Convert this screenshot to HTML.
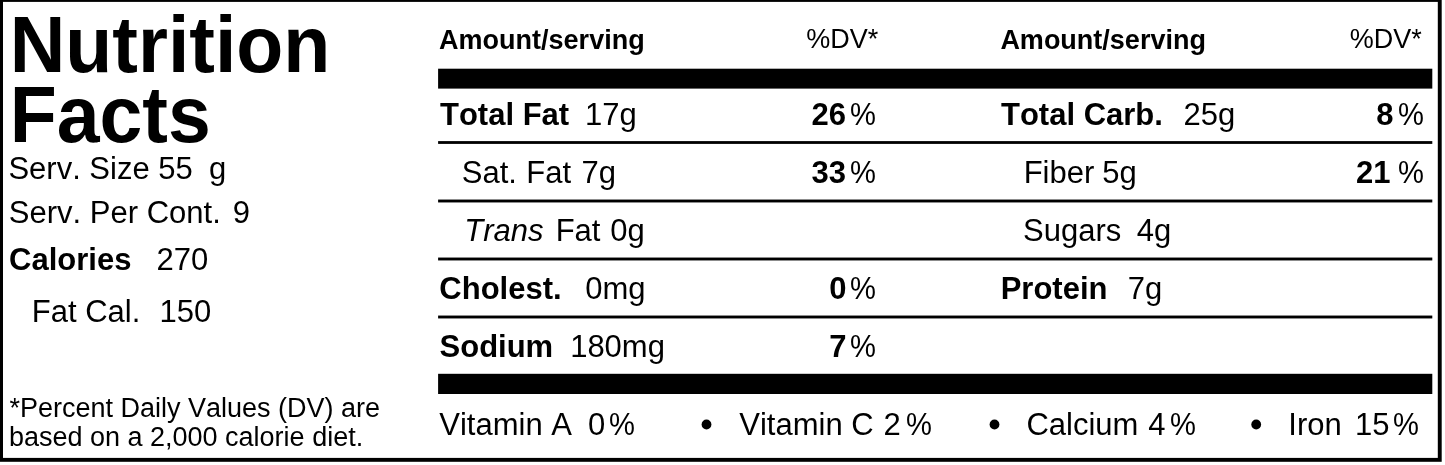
<!DOCTYPE html>
<html>
<head>
<meta charset="utf-8">
<title>Nutrition Facts</title>
<style>
html,body{margin:0;padding:0;background:#fff;}
body{width:1445px;height:465px;position:relative;overflow:hidden;font-family:"Liberation Sans",sans-serif;color:#000;font-kerning:none;font-variant-ligatures:none;}
.t{position:absolute;white-space:pre;line-height:1;margin:0;padding:0;}
#txt{position:absolute;left:0;top:0;width:1445px;height:465px;will-change:transform;}
.b{font-weight:bold;}
svg{position:absolute;left:0;top:0;}
</style>
</head>
<body>
<svg width="1445" height="465" viewBox="0 0 1445 465">
<rect x="1.05" y="-0.05" width="1438.7" height="459.9" fill="none" stroke="#000" stroke-width="3.9"/>
<rect x="438.1" y="68.7" width="994.2" height="19.9" fill="#000"/>
<rect x="438.1" y="141.1" width="994.2" height="2.8" fill="#000"/>
<rect x="438.1" y="199.55" width="994.2" height="2.9" fill="#000"/>
<rect x="438.1" y="257.55" width="994.2" height="2.9" fill="#000"/>
<rect x="438.1" y="315.55" width="994.2" height="2.9" fill="#000"/>
<rect x="438.1" y="373.8" width="994.2" height="20.2" fill="#000"/>
<circle cx="706.5" cy="424.5" r="4.9" fill="#000"/>
<circle cx="994.5" cy="424.5" r="4.9" fill="#000"/>
<circle cx="1256.2" cy="424.5" r="4.9" fill="#000"/>
</svg>
<div id="txt">
<div class="t b" id="t1" style="left:9.65px;top:5.05px;font-size:77.0px;transform:scale(1,1.028);transform-origin:0 0;">Nutrition</div>
<div class="t b" id="t2" style="left:9.65px;top:75.05px;font-size:77.0px;transform:scale(1,1.028);transform-origin:0 0;">Facts</div>
<div class="t" id="s1a" style="left:8.40px;top:153.00px;font-size:31.0px;">Serv. Size 55</div>
<div class="t" id="s1b" style="left:208.95px;top:153.00px;font-size:31.0px;">g</div>
<div class="t" id="s2a" style="left:8.84px;top:197.00px;font-size:31.0px;">Serv. Per Cont.</div>
<div class="t" id="s2b" style="left:232.67px;top:197.00px;font-size:31.0px;">9</div>
<div class="t b" id="s3a" style="left:9.09px;top:244.00px;font-size:31.0px;">Calories</div>
<div class="t" id="s3b" style="left:156.50px;top:244.00px;font-size:31.0px;">270</div>
<div class="t" id="s4a" style="left:31.80px;top:296.00px;font-size:31.0px;">Fat Cal.</div>
<div class="t" id="s4b" style="left:159.47px;top:296.00px;font-size:31.0px;">150</div>
<div class="t" id="f1" style="left:9.38px;top:395.09px;font-size:27.0px;">*Percent Daily Values (DV) are</div>
<div class="t" id="f2" style="left:8.92px;top:424.06px;font-size:27.0px;">based on a 2,000 calorie diet.</div>
<div class="t b" id="h1" style="left:439.11px;top:27.06px;font-size:27.0px;">Amount/serving</div>
<div class="t" id="h2" style="left:806.31px;top:26.01px;font-size:27.0px;">%DV*</div>
<div class="t b" id="h3" style="left:1000.39px;top:27.06px;font-size:27.0px;">Amount/serving</div>
<div class="t" id="h4" style="left:1349.87px;top:26.01px;font-size:27.0px;">%DV*</div>
<div class="t b" id="a1a" style="left:439.98px;top:99.05px;font-size:31.0px;">Total Fat</div>
<div class="t" id="a1b" style="left:585.03px;top:99.05px;font-size:31.0px;">17g</div>
<div class="t" id="a2a" style="left:461.85px;top:157.05px;font-size:31.0px;">Sat.</div>
<div class="t" id="a2b" style="left:526.21px;top:157.05px;font-size:31.0px;">Fat</div>
<div class="t" id="a2c" style="left:581.57px;top:157.05px;font-size:31.0px;">7g</div>
<div class="t" id="a3a" style="left:464.37px;top:215.05px;font-size:31.0px;"><i>Trans</i></div>
<div class="t" id="a3b" style="left:555.70px;top:215.05px;font-size:31.0px;">Fat</div>
<div class="t" id="a3c" style="left:610.17px;top:215.05px;font-size:31.0px;">0g</div>
<div class="t b" id="a4a" style="left:439.35px;top:273.05px;font-size:31.0px;">Cholest.</div>
<div class="t" id="a4b" style="left:585.30px;top:273.05px;font-size:31.0px;">0mg</div>
<div class="t b" id="a5a" style="left:439.53px;top:331.05px;font-size:31.0px;">Sodium</div>
<div class="t" id="a5b" style="left:570.15px;top:331.05px;font-size:31.0px;">180mg</div>
<div class="t b" id="p1n" style="left:811.62px;top:99.05px;font-size:31.0px;">26</div>
<div class="t" id="p1p" style="left:850.46px;top:99.05px;font-size:31.0px;transform:scale(0.94,1);transform-origin:0 0;">%</div>
<div class="t b" id="p2n" style="left:811.53px;top:157.05px;font-size:31.0px;">33</div>
<div class="t" id="p2p" style="left:850.46px;top:157.05px;font-size:31.0px;transform:scale(0.94,1);transform-origin:0 0;">%</div>
<div class="t b" id="p4n" style="left:829.30px;top:273.05px;font-size:31.0px;">0</div>
<div class="t" id="p4p" style="left:850.46px;top:273.05px;font-size:31.0px;transform:scale(0.94,1);transform-origin:0 0;">%</div>
<div class="t b" id="p5n" style="left:829.30px;top:331.05px;font-size:31.0px;">7</div>
<div class="t" id="p5p" style="left:850.46px;top:331.05px;font-size:31.0px;transform:scale(0.94,1);transform-origin:0 0;">%</div>
<div class="t b" id="c1a" style="left:1000.98px;top:99.05px;font-size:31.0px;">Total Carb.</div>
<div class="t" id="c1b" style="left:1183.50px;top:99.05px;font-size:31.0px;">25g</div>
<div class="t" id="c2a" style="left:1023.63px;top:157.05px;font-size:31.0px;">Fiber</div>
<div class="t" id="c2b" style="left:1102.34px;top:157.05px;font-size:31.0px;">5g</div>
<div class="t" id="c3a" style="left:1023.11px;top:215.05px;font-size:31.0px;">Sugars</div>
<div class="t" id="c3b" style="left:1136.65px;top:215.05px;font-size:31.0px;">4g</div>
<div class="t b" id="c4a" style="left:1000.70px;top:273.05px;font-size:31.0px;">Protein</div>
<div class="t" id="c4b" style="left:1127.82px;top:273.05px;font-size:31.0px;">7g</div>
<div class="t b" id="q1n" style="left:1376.20px;top:99.05px;font-size:31.0px;">8</div>
<div class="t" id="q1p" style="left:1397.56px;top:99.05px;font-size:31.0px;transform:scale(0.94,1);transform-origin:0 0;">%</div>
<div class="t b" id="q2n" style="left:1355.98px;top:157.05px;font-size:31.0px;">21</div>
<div class="t" id="q2p" style="left:1397.56px;top:157.05px;font-size:31.0px;transform:scale(0.94,1);transform-origin:0 0;">%</div>
<div class="t" id="v1a" style="left:439.29px;top:409.05px;font-size:31.0px;">Vitamin A</div>
<div class="t" id="v1b" style="left:587.96px;top:409.05px;font-size:31.0px;">0</div>
<div class="t" id="v1c" style="left:609.16px;top:409.05px;font-size:31.0px;transform:scale(0.94,1);transform-origin:0 0;">%</div>
<div class="t" id="v2a" style="left:739.29px;top:409.05px;font-size:31.0px;">Vitamin C</div>
<div class="t" id="v2b" style="left:883.50px;top:409.05px;font-size:31.0px;">2</div>
<div class="t" id="v2c" style="left:905.56px;top:409.05px;font-size:31.0px;transform:scale(0.94,1);transform-origin:0 0;">%</div>
<div class="t" id="v3a" style="left:1026.43px;top:409.05px;font-size:31.0px;">Calcium</div>
<div class="t" id="v3b" style="left:1148.25px;top:409.05px;font-size:31.0px;">4</div>
<div class="t" id="v3c" style="left:1170.36px;top:409.05px;font-size:31.0px;transform:scale(0.94,1);transform-origin:0 0;">%</div>
<div class="t" id="v4a" style="left:1288.35px;top:409.05px;font-size:31.0px;">Iron</div>
<div class="t" id="v4b" style="left:1355.11px;top:409.05px;font-size:31.0px;">15</div>
<div class="t" id="v4c" style="left:1393.36px;top:409.05px;font-size:31.0px;transform:scale(0.94,1);transform-origin:0 0;">%</div>
</div>
</body>
</html>
